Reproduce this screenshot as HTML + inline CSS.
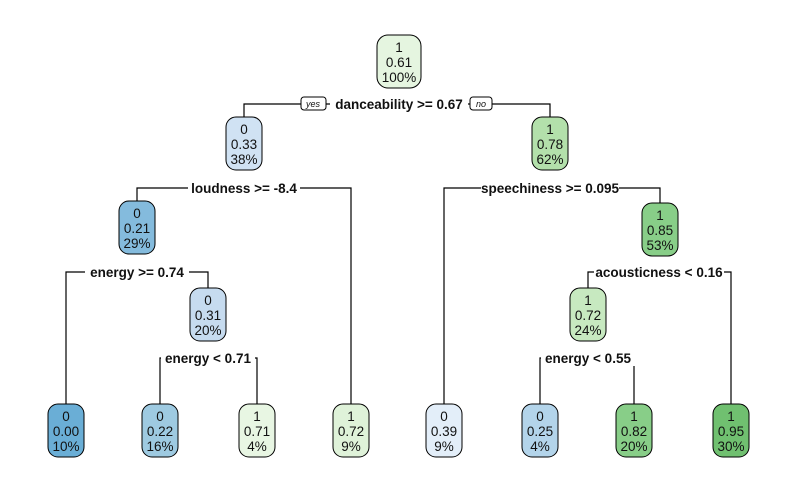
<!DOCTYPE html>
<html><head><meta charset="utf-8"><style>
html,body{margin:0;padding:0;background:#fff;}
svg{display:block;font-family:"Liberation Sans",Arial,sans-serif;}
.n{stroke:#000;stroke-width:1;}
.t{font-size:13.5px;text-anchor:middle;fill:#111;}
.l{font-size:13.5px;font-weight:bold;text-anchor:middle;fill:#111;}
.e{stroke:#000;stroke-width:1.2;fill:none;}
.yn{font-size:9px;font-style:italic;text-anchor:middle;fill:#111;}
</style></head><body>
<svg width="797" height="492" viewBox="0 0 797 492">
<rect width="797" height="492" fill="#fff"/>
<polyline class="e" points="244,117 244,104 550,104 550,117"/>
<polyline class="e" points="137,201 137,188 351,188 351,404"/>
<polyline class="e" points="444,404 444,188 660,188 660,203"/>
<polyline class="e" points="66,404 66,272 208,272 208,288"/>
<polyline class="e" points="588,288 588,272 731,272 731,404"/>
<polyline class="e" points="160,404 160,358 257,358 257,404"/>
<polyline class="e" points="540,404 540,358 634,358 634,404"/>
<rect x="330" y="96" width="138" height="16" fill="#fff"/>
<text class="l" x="399" y="109">danceability &gt;= 0.67</text>
<rect x="301" y="97" width="25" height="13" rx="3" fill="#fff" stroke="#000"/>
<text class="yn" x="313" y="107">yes</text>
<rect x="470" y="97" width="22" height="13" rx="3" fill="#fff" stroke="#000"/>
<text class="yn" x="481" y="107">no</text>
<rect x="188" y="180" width="112" height="16" fill="#fff"/>
<text class="l" x="244" y="193">loudness &gt;= -8.4</text>
<rect x="481" y="180" width="138" height="16" fill="#fff"/>
<text class="l" x="550" y="193">speechiness &gt;= 0.095</text>
<rect x="85" y="264" width="104" height="16" fill="#fff"/>
<text class="l" x="137" y="277">energy &gt;= 0.74</text>
<rect x="594" y="264" width="130" height="16" fill="#fff"/>
<text class="l" x="659" y="277">acousticness &lt; 0.16</text>
<rect x="161" y="350" width="94" height="16" fill="#fff"/>
<text class="l" x="208" y="363">energy &lt; 0.71</text>
<rect x="541" y="350" width="94" height="16" fill="#fff"/>
<text class="l" x="588" y="363">energy &lt; 0.55</text>
<g>
<rect class="n" x="377" y="35" width="44" height="53" rx="11" fill="#e5f5e0"/>
<text class="t" x="399" y="52">1</text><text class="t" x="399" y="67">0.61</text><text class="t" x="399" y="82">100%</text>
<rect class="n" x="226" y="117" width="36" height="53" rx="10" fill="#d0e2f3"/>
<text class="t" x="244" y="134">0</text><text class="t" x="244" y="149">0.33</text><text class="t" x="244" y="164">38%</text>
<rect class="n" x="532" y="117" width="36" height="53" rx="10" fill="#b3e0ab"/>
<text class="t" x="550" y="134">1</text><text class="t" x="550" y="149">0.78</text><text class="t" x="550" y="164">62%</text>
<rect class="n" x="119" y="201" width="36" height="53" rx="10" fill="#84bbdd"/>
<text class="t" x="137" y="218">0</text><text class="t" x="137" y="233">0.21</text><text class="t" x="137" y="248">29%</text>
<rect class="n" x="642" y="203" width="36" height="53" rx="10" fill="#88ce88"/>
<text class="t" x="660" y="220">1</text><text class="t" x="660" y="235">0.85</text><text class="t" x="660" y="250">53%</text>
<rect class="n" x="190" y="288" width="36" height="53" rx="10" fill="#c6dbef"/>
<text class="t" x="208" y="305">0</text><text class="t" x="208" y="320">0.31</text><text class="t" x="208" y="335">20%</text>
<rect class="n" x="570" y="288" width="36" height="53" rx="10" fill="#c7e9c0"/>
<text class="t" x="588" y="305">1</text><text class="t" x="588" y="320">0.72</text><text class="t" x="588" y="335">24%</text>
</g>
<g>
<rect class="n" x="48" y="404" width="36" height="53" rx="10" fill="#6aaed6"/>
<text class="t" x="66" y="421">0</text><text class="t" x="66" y="436">0.00</text><text class="t" x="66" y="451">10%</text>
<rect class="n" x="142" y="404" width="36" height="53" rx="10" fill="#9ecae1"/>
<text class="t" x="160" y="421">0</text><text class="t" x="160" y="436">0.22</text><text class="t" x="160" y="451">16%</text>
<rect class="n" x="239" y="404" width="36" height="53" rx="10" fill="#e8f6e3"/>
<text class="t" x="257" y="421">1</text><text class="t" x="257" y="436">0.71</text><text class="t" x="257" y="451">4%</text>
<rect class="n" x="333" y="404" width="36" height="53" rx="10" fill="#dff2d9"/>
<text class="t" x="351" y="421">1</text><text class="t" x="351" y="436">0.72</text><text class="t" x="351" y="451">9%</text>
<rect class="n" x="426" y="404" width="36" height="53" rx="10" fill="#e3eef9"/>
<text class="t" x="444" y="421">0</text><text class="t" x="444" y="436">0.39</text><text class="t" x="444" y="451">9%</text>
<rect class="n" x="522" y="404" width="36" height="53" rx="10" fill="#b3d4ea"/>
<text class="t" x="540" y="421">0</text><text class="t" x="540" y="436">0.25</text><text class="t" x="540" y="451">4%</text>
<rect class="n" x="616" y="404" width="36" height="53" rx="10" fill="#88ce88"/>
<text class="t" x="634" y="421">1</text><text class="t" x="634" y="436">0.82</text><text class="t" x="634" y="451">20%</text>
<rect class="n" x="713" y="404" width="36" height="53" rx="10" fill="#70c070"/>
<text class="t" x="731" y="421">1</text><text class="t" x="731" y="436">0.95</text><text class="t" x="731" y="451">30%</text>
</g>
</svg>
</body></html>
